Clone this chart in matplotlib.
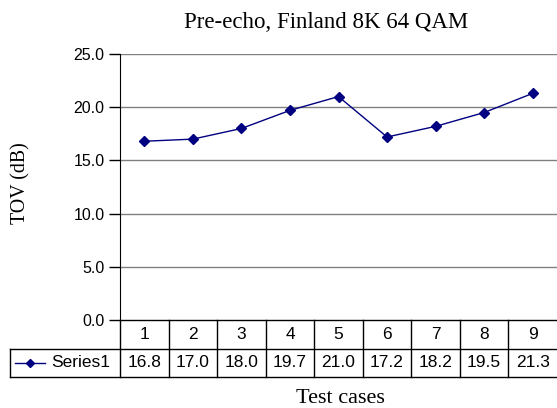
import matplotlib
matplotlib.use("Agg")
import matplotlib.pyplot as plt
import matplotlib.transforms as mtransforms

# data
cases = [1, 2, 3, 4, 5, 6, 7, 8, 9]
tov = [16.8, 17.0, 18.0, 19.7, 21.0, 17.2, 18.2, 19.5, 21.3]
series_name = "Series1"
y_ticks = [0, 5, 10, 15, 20, 25]

SANS = "Liberation Sans"
SERIF = "Liberation Serif"
NAVY = "#000080"

W, H = 557, 408
fig = plt.figure(figsize=(W / 100, H / 100), dpi=100)

# plot area in pixels: left 120, right 557, top 54, bottom 320
left, right, top, bottom = 120, 557, 54, 320
ax = fig.add_axes([left / W, 1 - bottom / H, (right - left) / W, (bottom - top) / H])

ax.plot(cases, tov, color=NAVY, lw=1, marker="D", ms=5, mec=NAVY, mfc=NAVY)

ax.set_xlim(0.5, 9.5)
ax.set_ylim(0, 25)
ax.set_yticks(y_ticks)
ax.set_yticklabels([f"{v:.1f}" for v in y_ticks], fontfamily=SANS, fontsize=11.5)
ax.set_xticks([])
ax.tick_params(axis="y", direction="out", length=8, width=1, pad=3, color="black")
for side in ["top", "right", "bottom"]:
    ax.spines[side].set_visible(False)
ax.spines["left"].set_color("black")
for v in y_ticks[1:]:
    ax.axhline(v, color="#808080", lw=1, zorder=0)

# data table under the plot, drawn by hand
trans = mtransforms.blended_transform_factory(ax.transData, ax.transAxes)
row_h = 28.5 / (bottom - top)
lab_left = (10 - left) / (right - left)
line_kw = dict(color="black", lw=1, clip_on=False)

ax.plot([0, 1], [0, 0], transform=ax.transAxes, **line_kw)
ax.plot([lab_left, 1], [-row_h, -row_h], transform=ax.transAxes, **line_kw)
ax.plot([lab_left, 1], [-2 * row_h, -2 * row_h], transform=ax.transAxes, **line_kw)
ax.plot([lab_left, lab_left], [-row_h, -2 * row_h], transform=ax.transAxes, **line_kw)
ax.plot([0, 0], [0, -2 * row_h], transform=ax.transAxes, **line_kw)
for k in range(1, len(cases)):
    xb = cases[k] - 0.5
    ax.plot([xb, xb], [0, -2 * row_h], transform=trans, **line_kw)

for c, v in zip(cases, tov):
    ax.text(c, -0.5 * row_h, str(c), transform=trans, ha="center", va="center",
            fontfamily=SANS, fontsize=12.5)
    ax.text(c, -1.5 * row_h, f"{v:.1f}", transform=trans, ha="center", va="center",
            fontfamily=SANS, fontsize=12.5)

# legend key in the row label cell
key_x = [(15 - left) / (right - left), (45 - left) / (right - left)]
ax.plot(key_x, [-1.5 * row_h] * 2, transform=ax.transAxes, color=NAVY, lw=1, clip_on=False)
ax.plot([sum(key_x) / 2], [-1.5 * row_h], transform=ax.transAxes, color=NAVY,
        marker="D", ms=4.5, clip_on=False)
ax.text((51 - left) / (right - left), -1.5 * row_h, series_name, transform=ax.transAxes,
        ha="left", va="center", fontfamily=SANS, fontsize=12.5)

fig.text(326 / W, 1 - 28 / H, "Pre-echo, Finland 8K 64 QAM", ha="center", va="baseline",
         fontfamily=SERIF, fontsize=16.5)
fig.text(21 / W, 1 - 183 / H, "TOV (dB)", ha="center", va="center", rotation=90,
         fontfamily=SERIF, fontsize=14.3)
fig.text(340 / W, 1 - 403 / H, "Test cases", ha="center", va="baseline",
         fontfamily=SERIF, fontsize=16)

fig.savefig("out.png", dpi=100)
